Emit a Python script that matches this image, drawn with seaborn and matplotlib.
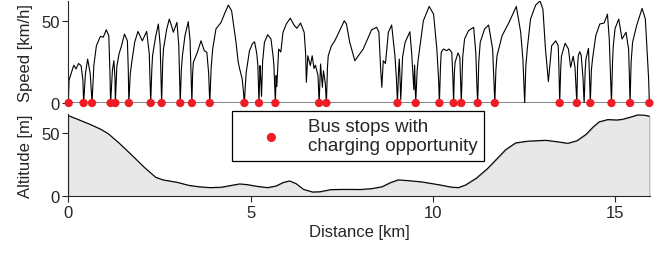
import numpy as np
import pandas as pd
import matplotlib
matplotlib.use("Agg")
import matplotlib.pyplot as plt
import seaborn as sns

# ---------------- data ----------------
speed_dist = [
    0.00, 0.02, 0.15, 0.21, 0.28, 0.35, 0.40, 0.42,
    0.47, 0.53, 0.60, 0.65,
    0.70, 0.77, 0.88, 0.96, 1.04, 1.11, 1.14, 1.16,
    1.21, 1.25, 1.28, 1.29,
    1.33, 1.39, 1.46, 1.54, 1.62, 1.645, 1.66,
    1.70, 1.74, 1.82, 1.91, 2.03, 2.15, 2.22, 2.26,
    2.29, 2.31, 2.40, 2.47, 2.52, 2.56,
    2.59, 2.61, 2.70, 2.77, 2.83, 2.88, 2.98, 3.03, 3.07,
    3.10, 3.13, 3.20, 3.29, 3.34, 3.39,
    3.41, 3.43, 3.54, 3.64, 3.73, 3.80, 3.85, 3.88,
    3.92, 3.96, 4.05, 4.19, 4.30, 4.39, 4.48, 4.60, 4.66, 4.69, 4.77, 4.80, 4.83,
    4.86, 4.88, 4.97, 5.05, 5.11, 5.17, 5.20, 5.23,
    5.26, 5.28, 5.30, 5.33, 5.38, 5.47, 5.56, 5.62, 5.64, 5.68,
    5.70, 5.72, 5.77, 5.83, 5.89, 5.98, 6.09, 6.19, 6.27, 6.37, 6.47, 6.51, 6.53,
    6.57, 6.64, 6.69, 6.74, 6.78, 6.85, 6.88,
    6.92, 6.97, 7.00, 7.05, 7.08,
    7.11, 7.13, 7.22, 7.31, 7.40, 7.57, 7.63, 7.72, 7.86, 8.09, 8.32, 8.46, 8.52,
    8.57, 8.60, 8.64, 8.70, 8.78, 8.87, 8.96, 9.00, 9.03,
    9.06, 9.08, 9.10, 9.12, 9.17, 9.24, 9.37, 9.42, 9.44, 9.48, 9.50, 9.53,
    9.57, 9.60, 9.74, 9.90, 10.02, 10.11, 10.16, 10.18,
    10.21, 10.23, 10.29, 10.38, 10.44, 10.52, 10.55, 10.57,
    10.59, 10.61, 10.69, 10.74, 10.76, 10.78,
    10.82, 10.87, 10.98, 11.12, 11.18, 11.21, 11.23,
    11.26, 11.30, 11.42, 11.53, 11.64, 11.67, 11.70,
    11.73, 11.76, 11.90, 12.09, 12.29, 12.41, 12.47, 12.52,
    12.55, 12.59, 12.68, 12.82, 12.94, 13.02, 13.09, 13.17, 13.26, 13.37, 13.44, 13.46, 13.48,
    13.51, 13.53, 13.63, 13.72, 13.78, 13.85, 13.90, 13.95,
    13.97, 13.99, 14.03, 14.07, 14.12, 14.15,
    14.18, 14.20, 14.27, 14.30, 14.32,
    14.35, 14.38, 14.47, 14.58, 14.70, 14.79, 14.84, 14.87, 14.90,
    14.93, 14.95, 15.00, 15.10, 15.19, 15.30, 15.37, 15.39, 15.41,
    15.44, 15.48, 15.59, 15.74, 15.83, 15.92, 15.94,
]
speed_kmh = [
    0, 14, 23, 20.7, 24, 22.7, 14, 0,
    18, 26.7, 18, 0,
    22.7, 34.8, 40.5, 40, 44.5, 40.9, 20, 0,
    20, 25.7, 15, 0,
    22, 29.8, 34.8, 41.9, 37.8, 20, 0,
    18, 24.7, 36.9, 43.5, 37.8, 43.5, 30, 0,
    20, 28.7, 40.9, 48, 35, 0,
    25, 32.8, 45, 51, 47, 43, 49, 35, 0,
    20, 28.7, 40.9, 49.4, 38, 0,
    18, 24.7, 30.8, 37.8, 31.8, 30.8, 18, 0,
    22, 32.8, 45, 49, 55, 59.5, 56, 36.9, 25, 21.7, 14.6, 8, 0,
    12, 18.6, 31.8, 36, 37.2, 30, 22.7, 0,
    22.7, 15, 4, 25, 36.9, 41.5, 38.9, 28, 22.7, 0,
    16.6, 10, 32.8, 31, 43, 48, 51.6, 47.4, 45.4, 48.6, 43, 30, 12.6,
    28.7, 22.7, 28.7, 21, 23, 16.6, 0,
    23.7, 9.5, 19.6, 12, 0,
    22, 28.7, 34.8, 37.8, 41.9, 50, 48, 36.9, 25.7, 32.8, 44.5, 46, 43,
    20, 9.5, 25.7, 24, 43, 47.4, 28.7, 15, 0,
    20, 26.7, 15, 2, 28, 36.9, 43.3, 30, 22.7, 8, 23, 0,
    20, 26.7, 50, 58.7, 54, 32.8, 13.5, 0,
    22, 30.8, 32.8, 31.8, 32.8, 30.8, 15, 0,
    18, 24.7, 30.4, 28, 15, 0,
    28, 38.9, 44, 46, 30, 10, 0,
    25, 36.9, 45, 47.4, 32.8, 15.6, 0,
    20, 28.7, 40.9, 49, 58.7, 43, 26.7, 0,
    22, 32.8, 51, 59.5, 62, 57, 32.8, 13, 34.8, 37.8, 34.8, 20, 0,
    22, 28.7, 36.3, 32.8, 21.7, 28.4, 21.7, 0,
    22, 28.7, 31.2, 29, 15, 0,
    20, 26.7, 33.2, 15, 0,
    20, 26.7, 40.9, 48, 48.6, 54, 38.9, 20, 0,
    25, 34.8, 45.4, 51, 38.9, 43, 32.8, 18, 0,
    25, 36.9, 47, 57.5, 51, 14.6, 0,
]

stop_dist = [0.01, 0.42, 0.65, 1.16, 1.29, 1.66, 2.26, 2.56, 3.07, 3.39,
             3.88, 4.83, 5.23, 5.68, 6.88, 7.08, 9.03, 9.53, 10.18, 10.57,
             10.78, 11.23, 11.70, 13.48, 13.95, 14.32, 14.90, 15.41, 15.94]
stop_speed = [0] * len(stop_dist)

alt_dist = [0, 0.3, 0.6, 0.9, 1.1, 1.4, 1.8, 2.1, 2.4, 2.6, 3.0, 3.3, 3.6, 3.9,
            4.2, 4.5, 4.7, 4.9, 5.2, 5.47, 5.7, 5.9, 6.07, 6.25, 6.45, 6.7, 6.9,
            7.2, 7.6, 8.0, 8.3, 8.6, 8.85, 9.05, 9.3, 9.7, 10.2, 10.5, 10.7,
            10.9, 11.2, 11.5, 11.8, 12.0, 12.27, 12.6, 13.1, 13.4, 13.7, 13.95,
            14.2, 14.4, 14.56, 14.8, 15.05, 15.2, 15.45, 15.62, 15.8, 15.94]
alt_m = [64, 60.5, 57, 53, 49.5, 42, 31, 22.5, 15, 13, 11, 8.7, 7.5, 6.9,
         7.2, 8.8, 9.8, 9.3, 7.8, 6.9, 8.2, 11, 12.2, 10, 5.5, 3.4, 3.6,
         5.3, 5.5, 5.4, 6, 7.5, 11, 13, 12.5, 11.4, 9, 7.3, 6.9,
         9, 14.5, 22, 31, 37, 42.3, 43.7, 44.4, 43.3, 42, 44,
         49, 55, 59, 60.8, 60.5, 61, 63, 64.5, 64.3, 63.5]

speed_ticks = [0, 50]
alt_ticks = [0, 50]
dist_ticks = [0, 5, 10, 15]

# ---------------- style ----------------
sns.set_style("ticks")
plt.rcParams['font.family'] = ['Liberation Sans', 'DejaVu Sans']
plt.rcParams['font.size'] = 12

red = '#ee1c25'

fig = plt.figure(figsize=(6.64, 2.55), dpi=100)
ax1 = fig.add_axes([0.1029, 0.5922, 0.8756, 0.40])
ax2 = fig.add_axes([0.1029, 0.2263, 0.8756, 0.3216])

speed_df = pd.DataFrame({'dist': speed_dist, 'speed': speed_kmh})
stops_df = pd.DataFrame({'dist': stop_dist, 'speed': stop_speed})
alt_df = pd.DataFrame({'dist': alt_dist, 'alt': alt_m})

# top: speed
ax1.axhline(0, color='#777777', lw=1.3, zorder=1)
sns.lineplot(data=speed_df, x='dist', y='speed', ax=ax1, color='black',
             lw=0.8, sort=False, estimator=None, zorder=2)
sc = ax1.scatter(stops_df['dist'], stops_df['speed'], s=36, color=red,
                 edgecolor='none', zorder=3, clip_on=False,
                 label='Bus stops with\ncharging opportunity')
ax1.set_xlim(0, 15.95)
ax1.set_ylim(0, 62)
ax1.set_yticks(speed_ticks)
ax1.set_xticks([])
ax1.set_xlabel('')
ax1.set_ylabel('Speed [km/h]', labelpad=6)
for s in ['top', 'right', 'bottom']:
    ax1.spines[s].set_visible(False)
ax1.spines['left'].set_linewidth(0.8)
ax1.tick_params(axis='y', length=4, width=0.8, pad=2)

# bottom: altitude
ax2.fill_between(alt_df['dist'], alt_df['alt'], 0, color='#e8e8e8',
                 edgecolor='#999999', lw=0.6, zorder=1)
sns.lineplot(data=alt_df, x='dist', y='alt', ax=ax2, color='black', lw=0.8,
             sort=False, estimator=None, zorder=2)
ax2.set_xlim(0, 15.95)
ax2.set_ylim(0, 65)
ax2.set_xticks(dist_ticks)
ax2.set_yticks(alt_ticks)
ax2.set_xlabel('Distance [km]', labelpad=3)
ax2.set_ylabel('Altitude [m]', labelpad=6)
for s in ['top', 'right']:
    ax2.spines[s].set_visible(False)
for s in ['left', 'bottom']:
    ax2.spines[s].set_linewidth(0.8)
ax2.tick_params(axis='both', length=4, width=0.8, pad=2)

leg = fig.legend(handles=[sc], loc='upper left',
                 bbox_to_anchor=(232 / 664, 1 - 112 / 255),
                 bbox_transform=fig.transFigure, borderaxespad=0,
                 fontsize=13.5, frameon=True, fancybox=False, framealpha=1,
                 edgecolor='black', handlelength=3.5, handletextpad=0.2,
                 borderpad=0.35, markerscale=1.1)
leg.get_frame().set_linewidth(0.9)

fig.savefig('out.png', dpi=100)
